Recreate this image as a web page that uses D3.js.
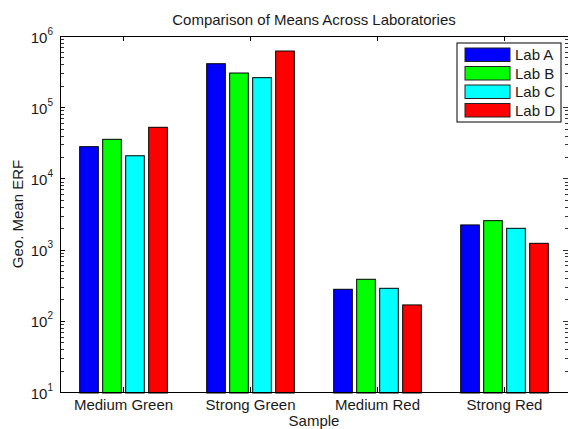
<html lang="en">
<head>
    <meta charset="utf-8">
    <title>Comparison of Means Across Laboratories</title>
    <style>
        body {
            margin: 0;
            background: white;
        }

        svg text {
            font-family: "Liberation Sans", Arial, Helvetica, sans-serif;
            font-size: 15px;
            fill: #1a1a1a;
        }

        .axis path, .axis line {
            stroke: black;
            shape-rendering: crispEdges;
        }

        .minor line {
            stroke: #333;
            shape-rendering: crispEdges;
        }

        .bar {
            stroke: black;
            stroke-width: 1;
        }
    </style>
</head>
<body>
<svg id="chart" width="568" height="429"></svg>
<script src="https://cdnjs.cloudflare.com/ajax/libs/d3/7.8.5/d3.min.js"></script>
<script>
    const samples = ["Medium Green", "Strong Green", "Medium Red", "Strong Red"];
    const labs = ["Lab A", "Lab B", "Lab C", "Lab D"];
    const labColors = ["#0000ff", "#00ff00", "#00ffff", "#ff0000"];
    const labA = [27900, 408000, 277, 2220];
    const labB = [35400, 302000, 383, 2550];
    const labC = [20800, 260000, 286, 1990];
    const labD = [52200, 615000, 167, 1225];
    const yTicks = [10, 100, 1000, 10000, 100000, 1000000];

    const seriesValues = [labA, labB, labC, labD];

    const svg = d3.select("#chart");
    const margin = {top: 36, right: 0, bottom: 37, left: 60};
    const width = +svg.attr("width") - margin.left - margin.right;
    const height = +svg.attr("height") - margin.top - margin.bottom;
    const g = svg.append("g").attr("transform", `translate(${margin.left},${margin.top})`);

    const x0 = d3.scaleBand().domain(samples).range([0, width]).padding(0);
    const x1 = d3.scaleBand().domain(labs)
        .range([-0.345 * x0.bandwidth(), 0.345 * x0.bandwidth()])
        .paddingInner(0.19);
    const y = d3.scaleLog().domain([10, 1e6]).range([height, 0]);

    // bars
    const rows = samples.map((s, i) => labs.map((lab, j) => ({sample: s, lab: lab, value: seriesValues[j][i], color: labColors[j]})));
    g.append("g").selectAll("g")
        .data(rows)
        .join("g")
        .attr("transform", d => `translate(${x0(d[0].sample) + x0.bandwidth() / 2},0)`)
        .selectAll("rect")
        .data(d => d)
        .join("rect")
        .attr("class", "bar")
        .attr("x", d => x1(d.lab))
        .attr("width", x1.bandwidth())
        .attr("y", d => y(d.value))
        .attr("height", d => y(10) - y(d.value) + 1)
        .attr("fill", d => d.color);

    // minor ticks on log axis
    const minorTicks = y.ticks().filter(t => !yTicks.includes(t));
    g.append("g").attr("class", "minor").selectAll("line")
        .data(minorTicks)
        .join("line")
        .attr("x1", 0.5).attr("x2", 3.5)
        .attr("y1", d => Math.round(y(d)) + 0.5).attr("y2", d => Math.round(y(d)) + 0.5);
    g.append("g").attr("class", "minor").selectAll("line")
        .data(minorTicks.concat(yTicks))
        .join("line")
        .attr("x1", width - 0.5).attr("x2", d => yTicks.includes(d) ? width - 5.5 : width - 3.5)
        .attr("y1", d => Math.round(y(d)) + 0.5).attr("y2", d => Math.round(y(d)) + 0.5);

    // y axis
    const yAxis = g.append("g").attr("class", "axis")
        .call(d3.axisLeft(y).tickValues(yTicks).tickSizeInner(-5).tickSizeOuter(0).tickFormat(""));
    yAxis.selectAll(".tick text").remove();
    yAxis.selectAll(".tick").append("text")
        .attr("x", -7)
        .attr("dy", "6")
        .attr("text-anchor", "end")
        .each(function(d)
        {
            const t = d3.select(this);
            t.append("tspan").text("10");
            t.append("tspan").attr("dy", -8).style("font-size", "10px").text(Math.round(Math.log10(d)));
        });

    // x axis bottom and top
    g.append("g").attr("class", "axis")
        .attr("transform", `translate(0,${height})`)
        .call(d3.axisBottom(x0).tickSizeInner(-5).tickSizeOuter(0).tickPadding(7))
        .call(a => a.selectAll(".tick line").attr("stroke", "#666"))
        .call(a => a.selectAll(".tick text").style("font-size", "15px").attr("fill", "#1a1a1a"));
    g.append("g").attr("class", "axis")
        .call(d3.axisTop(x0).tickSizeInner(-5).tickSizeOuter(0).tickFormat(""))
        .call(a => a.selectAll(".tick line").attr("stroke", "#666"));

    // titles
    svg.append("text")
        .attr("x", margin.left + width / 2).attr("y", 25)
        .attr("text-anchor", "middle")
        .text("Comparison of Means Across Laboratories");
    svg.append("text")
        .attr("x", margin.left + width / 2).attr("y", 426)
        .attr("text-anchor", "middle")
        .text("Sample");
    svg.append("text")
        .attr("transform", `translate(23,${margin.top + height / 2}) rotate(-90)`)
        .attr("text-anchor", "middle")
        .text("Geo. Mean ERF");

    // legend
    const legend = svg.append("g").attr("transform", "translate(457,43)");
    legend.append("rect")
        .attr("width", 104).attr("height", 79)
        .attr("fill", "white").attr("stroke", "black");
    const items = legend.selectAll("g.item")
        .data(labs)
        .join("g")
        .attr("class", "item")
        .attr("transform", (d, i) => `translate(8,${5 + i * 18.5})`);
    items.append("rect")
        .attr("width", 45).attr("height", 13.5)
        .attr("fill", (d, i) => labColors[i])
        .attr("stroke", "#222");
    items.append("text")
        .attr("x", 50).attr("y", 12)
        .text(d => d);
</script>
</body>
</html>
